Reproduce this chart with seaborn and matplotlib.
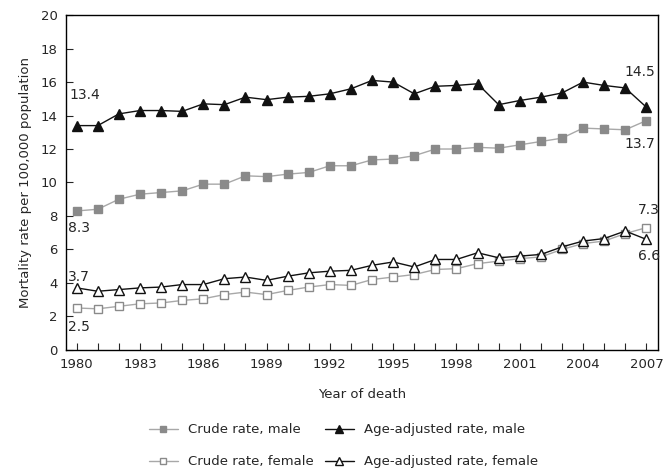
import numpy as np
import pandas as pd
import matplotlib
matplotlib.use("Agg")
import matplotlib.pyplot as plt
import seaborn as sns

years = list(range(1980, 2008))

crude_male = [8.3, 8.4, 9.0, 9.3, 9.4, 9.5, 9.9, 9.9, 10.4, 10.35, 10.5, 10.6, 11.0, 11.0,
              11.35, 11.4, 11.6, 12.0, 12.0, 12.1, 12.05, 12.25, 12.45, 12.65, 13.25, 13.2, 13.15, 13.7]
adj_male = [13.4, 13.4, 14.1, 14.3, 14.3, 14.25, 14.7, 14.65, 15.1, 14.95, 15.1, 15.15, 15.3, 15.6,
            16.1, 16.0, 15.3, 15.75, 15.8, 15.9, 14.65, 14.9, 15.1, 15.35, 16.0, 15.8, 15.65, 14.5]
crude_female = [2.5, 2.45, 2.6, 2.75, 2.8, 2.95, 3.05, 3.3, 3.45, 3.3, 3.55, 3.75, 3.9, 3.85,
                4.2, 4.35, 4.5, 4.8, 4.85, 5.15, 5.3, 5.45, 5.55, 6.0, 6.35, 6.5, 6.95, 7.3]
adj_female = [3.7, 3.5, 3.6, 3.7, 3.75, 3.9, 3.9, 4.25, 4.35, 4.15, 4.4, 4.6, 4.7, 4.75,
              5.05, 5.25, 4.95, 5.4, 5.4, 5.8, 5.5, 5.6, 5.7, 6.15, 6.5, 6.65, 7.1, 6.6]

series_names = ["Crude rate, male", "Crude rate, female",
                "Age-adjusted rate, male", "Age-adjusted rate, female"]

x_ticks = list(range(1980, 2008, 3))
y_ticks = list(range(0, 21, 2))

df = pd.DataFrame({
    "year": years * 4,
    "rate": crude_male + crude_female + adj_male + adj_female,
    "series": sum([[n] * len(years) for n in series_names], []),
})

# marker styles per series
styles = {
    "Crude rate, male": dict(color="#a8a8a8", marker="s", mfc="#8a8a8a", mec="#8a8a8a", ms=6),
    "Crude rate, female": dict(color="#a8a8a8", marker="s", mfc="white", mec="#8a8a8a", ms=6),
    "Age-adjusted rate, male": dict(color="#111111", marker="^", mfc="#111111", mec="#111111", ms=6.5),
    "Age-adjusted rate, female": dict(color="#111111", marker="^", mfc="white", mec="#111111", ms=6.5),
}

sns.set_style("ticks")
plt.rcParams["font.family"] = ["DejaVu Sans"]
plt.rcParams["font.size"] = 9

fig = plt.figure(figsize=(6.68, 4.74), dpi=100)
ax = fig.add_axes([0.099, 0.262, 0.886, 0.706])

handles = []
for name in series_names:
    st = styles[name]
    sub = df[df["series"] == name]
    sns.lineplot(data=sub, x="year", y="rate", ax=ax, color=st["color"], lw=1.0,
                 marker=st["marker"], markersize=st["ms"],
                 markerfacecolor=st["mfc"], markeredgecolor=st["mec"],
                 markeredgewidth=1.0, label=name, legend=False)
    handles.append(ax.lines[-1])

ax.set_xlim(1979.5, 2007.55)
ax.set_ylim(0, 20)
ax.set_xticks(years, minor=True)
ax.set_xticks(x_ticks)
ax.set_yticks(y_ticks)
ax.tick_params(axis="both", direction="in", length=5, width=0.8, labelsize=9.5, pad=6)
ax.tick_params(axis="x", which="minor", direction="in", length=5, width=0.8)
for sp in ax.spines.values():
    sp.set_linewidth(1.0)
    sp.set_color("black")
ax.set_xlabel("Year of death", fontsize=9.5, labelpad=12)
ax.set_ylabel("Mortality rate per 100,000 population", fontsize=9.5, labelpad=6)

# end-point labels
lab_fs = 10
ax.annotate(f"{adj_male[0]:.1f}", (years[0], adj_male[0]), xytext=(-5, 22),
            textcoords="offset points", ha="left", va="center", fontsize=lab_fs)
ax.annotate(f"{crude_male[0]:.1f}", (years[0], crude_male[0]), xytext=(-6, -12),
            textcoords="offset points", ha="left", va="center", fontsize=lab_fs)
ax.annotate(f"{adj_female[0]:.1f}", (years[0], adj_female[0]), xytext=(-6, 8),
            textcoords="offset points", ha="left", va="center", fontsize=lab_fs)
ax.annotate(f"{crude_female[0]:.1f}", (years[0], crude_female[0]), xytext=(-6, -14),
            textcoords="offset points", ha="left", va="center", fontsize=lab_fs)
ax.annotate(f"{adj_male[-1]:.1f}", (years[-1], adj_male[-1]), xytext=(-5, 25),
            textcoords="offset points", ha="center", va="center", fontsize=lab_fs)
ax.annotate(f"{crude_male[-1]:.1f}", (years[-1], crude_male[-1]), xytext=(-5, -17),
            textcoords="offset points", ha="center", va="center", fontsize=lab_fs)
ax.annotate(f"{crude_female[-1]:.1f}", (years[-1], crude_female[-1]), xytext=(2, 13),
            textcoords="offset points", ha="center", va="center", fontsize=lab_fs)
ax.annotate(f"{adj_female[-1]:.1f}", (years[-1], adj_female[-1]), xytext=(2, -12),
            textcoords="offset points", ha="center", va="center", fontsize=lab_fs)

fig.legend(handles=handles, labels=series_names, ncol=2, loc="upper left",
           bbox_to_anchor=(0.215, 0.118), frameon=False, fontsize=9.5,
           handlelength=2.2, columnspacing=0.8, labelspacing=1.45, handletextpad=0.8,
           borderaxespad=0, markerscale=0.8)

fig.savefig("out.png", dpi=100)
